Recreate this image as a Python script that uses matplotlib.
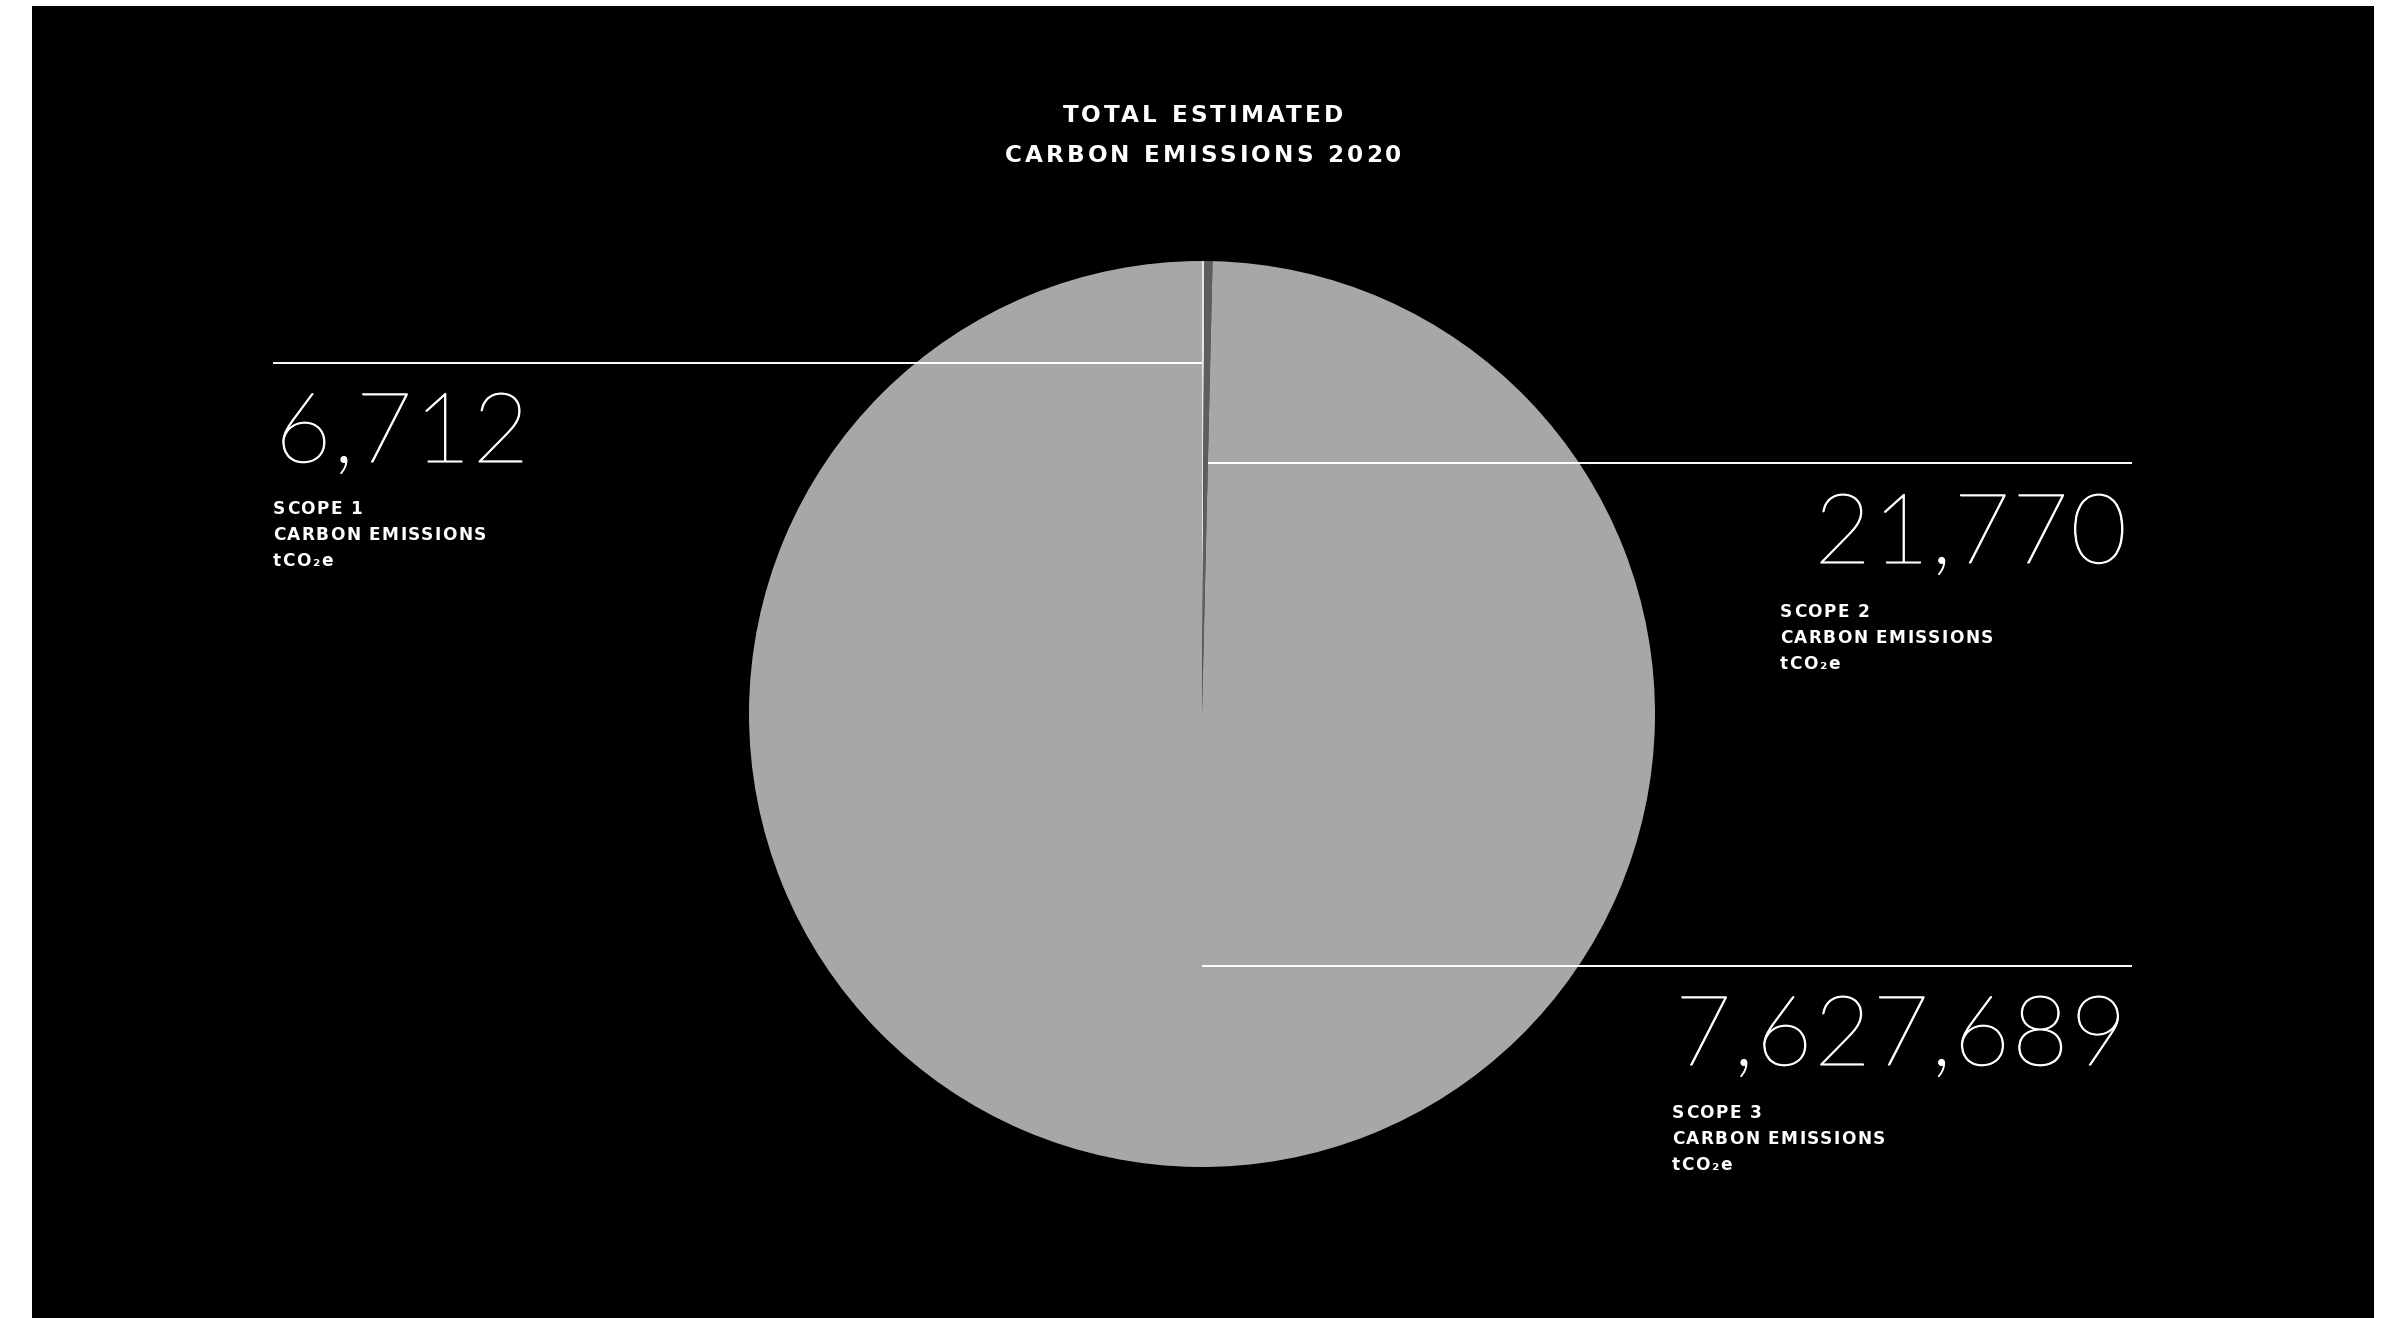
import matplotlib
matplotlib.use('Agg')
import matplotlib.pyplot as plt
from matplotlib import font_manager, patheffects
from matplotlib.font_manager import FontProperties
from matplotlib.patches import Rectangle
import numpy as np

# data
scopes = ['SCOPE 1', 'SCOPE 2', 'SCOPE 3']
emissions = [6712, 21770, 7627689]
colors = ['#e6e6e6', '#5e5e5e', '#a7a7a7']
title_lines = ['TOTAL ESTIMATED', 'CARBON EMISSIONS 2020']
unit = 'tCO\u2082e'

W, H = 2407, 1318
fig = plt.figure(figsize=(W / 100, H / 100), dpi=100, facecolor='white')
renderer = fig.canvas.get_renderer()

# black panel behind everything
fig.patches.append(Rectangle((32 / W, 0), (2374 - 32) / W, (H - 6) / H,
                             transform=fig.transFigure, facecolor='black',
                             edgecolor='none', zorder=-1))

# pie
cx, cy, r = 1202, 714, 453
ax = fig.add_axes([(cx - r) / W, 1 - (cy + r) / H, 2 * r / W, 2 * r / H], zorder=1)
ax.pie(emissions, colors=colors, startangle=90, counterclock=False,
       wedgeprops=dict(linewidth=0))
ax.set_xlim(-1, 1)
ax.set_ylim(-1, 1)
ax.axis('off')

# overlay in pixel coords
ov = fig.add_axes([0, 0, 1, 1], zorder=2)
ov.set_xlim(0, W)
ov.set_ylim(H, 0)
ov.axis('off')
ov.patch.set_alpha(0)


def wnum(w):
    if isinstance(w, str):
        return font_manager.weight_dict.get(w, 400)
    return w


def thin_font(families, lo=150, hi=300):
    # lightest face between lo and hi of the first family that has one
    for fam in families:
        cands = [f for f in font_manager.fontManager.ttflist
                 if f.name == fam and f.style == 'normal' and lo <= wnum(f.weight) <= hi]
        if cands:
            f = min(cands, key=lambda f: wnum(f.weight))
            return FontProperties(fname=f.fname)
    return FontProperties(family='DejaVu Sans', weight='light')


def sized(fp, cap_px, ref='E'):
    fp = fp.copy()
    fp.set_size(50)
    h = renderer.get_text_width_height_descent(ref, fp, ismath=False)[1]
    fp.set_size(50 * cap_px / h)
    return fp


def width(s, fp):
    return renderer.get_text_width_height_descent(s, fp, ismath=False)[0]


def tracking(ref, target, fp):
    return (target - width(ref, fp)) / (len(ref) - 1)


def tracked_text(x, y, s, fp, track, ha='left', color='white', **kw):
    total = width(s, fp) + (len(s) - 1) * track
    x0 = {'left': x, 'right': x - total, 'center': x - total / 2}[ha]
    for i, ch in enumerate(s):
        if ch == ' ':
            continue
        xi = width(s[:i + 1], fp) - width(ch, fp) if i else 0
        ov.text(x0 + xi + i * track, y, ch, fontproperties=fp, color=color,
                ha='left', va='baseline', **kw)


num_fp = sized(thin_font(['Lato', 'Roboto', 'Open Sans', 'Inter', 'Noto Sans']), 67, '7')
num_tr = tracking('7,627,689', 452, num_fp)
# thin face is a touch too fine, fatten the strokes slightly
num_fx = [patheffects.withStroke(linewidth=0.8, foreground='white')]

lab_fp = sized(FontProperties(family=['DejaVu Sans'], weight='bold'), 12.5)
lab_tr = tracking('CARBON EMISSIONS', 213, lab_fp)

tit_fp = sized(FontProperties(family=['DejaVu Sans'], weight='bold'), 17)
tit_tr = tracking('CARBON EMISSIONS 2020', 397, tit_fp)

# title
tracked_text(1203, 122, title_lines[0], tit_fp, tit_tr, ha='center')
tracked_text(1203, 162, title_lines[1], tit_fp, tit_tr, ha='center')

# wedge boundary angles (from top, clockwise)
frac = np.cumsum(emissions) / np.sum(emissions)
ang = np.radians(360 * frac)

line_kw = dict(color='white', lw=1.4, solid_capstyle='butt')

# scope 1 - left
y1 = 363
ov.plot([273, cx], [y1, y1], **line_kw)
tracked_text(275, 462, f'{emissions[0]:,}', num_fp, num_tr, ha='left', path_effects=num_fx)
for k, txt in enumerate([scopes[0], 'CARBON EMISSIONS', unit]):
    tracked_text(273, 514 + 26 * k, txt, lab_fp, lab_tr)

# scope 2 - right
y2 = 463
x2 = cx + (cy - y2) * np.tan(ang[1])
ov.plot([x2, 2132], [y2, y2], **line_kw)
tracked_text(2127, 563, f'{emissions[1]:,}', num_fp, num_tr, ha='right', path_effects=num_fx)
for k, txt in enumerate([scopes[1], 'CARBON EMISSIONS', unit]):
    tracked_text(1780, 617 + 26 * k, txt, lab_fp, lab_tr)

# scope 3 - right, lower
y3 = 966
ov.plot([cx, 2132], [y3, y3], **line_kw)
tracked_text(2127, 1065, f'{emissions[2]:,}', num_fp, num_tr, ha='right', path_effects=num_fx)
for k, txt in enumerate([scopes[2], 'CARBON EMISSIONS', unit]):
    tracked_text(1672, 1118 + 26 * k, txt, lab_fp, lab_tr)

fig.savefig('out.png', dpi=100, facecolor='white')
